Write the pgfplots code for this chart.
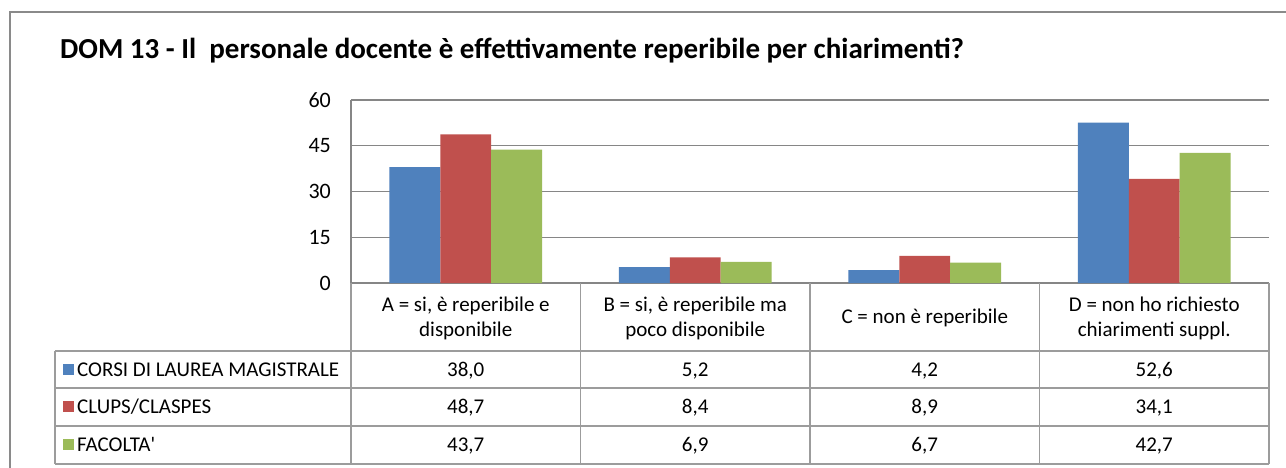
\documentclass[border=0pt]{standalone}
\usepackage{pgfplots}
\usepackage{pgfplotstable}
\pgfplotsset{compat=1.18}
\usepackage{fontspec}
\setmainfont{Carlito}
\newfontfamily\rawcarlito{Carlito}
\definecolor{serblue}{HTML}{4F81BD}
\definecolor{serred}{HTML}{C0504D}
\definecolor{sergreen}{HTML}{9BBB59}
\definecolor{gridgray}{HTML}{868686}
\definecolor{tabgray}{HTML}{9C9C9C}
\definecolor{framegray}{HTML}{8A8A8A}

% category positions 0.5 .. 3.5, one column per series
\pgfplotstableread{
x   lm    clups fac
0.5 38.0  48.7  43.7
1.5 5.2   8.4   6.9
2.5 4.2   8.9   6.7
3.5 52.6  34.1  42.7
}\dom

\newcommand\tabfont{\fontsize{21}{25}\selectfont}

\begin{document}
\begin{tikzpicture}
\path[use as bounding box] (0pt,0pt) rectangle (1286pt,-468pt);
\fill[white] (0pt,0pt) rectangle (1286pt,-468pt);

\begin{axis}[
  at={(351pt,-283pt)}, anchor=south west,
  width=918pt, height=183pt, scale only axis,
  xmin=0, xmax=4, ymin=0, ymax=60,
  ytick={0,15,30,45,60}, xtick=\empty,
  ymajorgrids, grid style={gridgray, line width=1.2pt},
  axis x line=bottom, axis y line=left,
  axis line style={-, gridgray, line width=1.2pt},
  major tick length=0pt,
  /pgf/number format/assume math mode=true,
  yticklabel style={font=\fontsize{22}{26}\selectfont, anchor=east, inner sep=0pt, xshift=-20pt},
  clip=false,
]
\addplot[ybar, bar width=0.222, bar shift=-0.222, fill=serblue, draw=none] table[x=x, y=lm] {\dom};
\addplot[ybar, bar width=0.222, bar shift=0, fill=serred, draw=none] table[x=x, y=clups] {\dom};
\addplot[ybar, bar width=0.222, bar shift=0.222, fill=sergreen, draw=none] table[x=x, y=fac] {\dom};
\end{axis}

\begin{scope}[x=1pt, y=1pt]
% outer chart frame (cut at right and bottom)
\draw[framegray, line width=2] (10,-470) -- (10,-12) -- (1290,-12);
% title
\node[anchor=base west, inner sep=0pt, font=\fontsize{29}{33}\selectfont\bfseries]
  at (60,-59) {DOM 13 - Il\ \ personale docente è effettivamente reperibile per chiarimenti?};

% data table grid
\begin{scope}[tabgray, line width=1.2]
  \foreach \yy in {351,388,426,464} \draw (55,-\yy) -- (1269,-\yy);
  \draw (55,-351) -- (55,-464);
  \foreach \xx in {351,580.5,810,1039.5,1269} \draw (\xx,-283) -- (\xx,-464);
\end{scope}

% category headers
\begin{scope}[every node/.style={align=center, inner sep=0pt, font=\tabfont}]
  \node at (465.75,-318) {A = si, è reperibile e\\disponibile};
  \node at (695.25,-318) {B = si, è reperibile ma\\poco disponibile};
  \node at (924.75,-318) {C = non è reperibile};
  \node at (1154.25,-318) {D = non ho richiesto\\chiarimenti suppl.};
\end{scope}

% legend column
\fill[serblue]  (63,-364) rectangle (74,-375);
\fill[serred]   (63,-401) rectangle (74,-412);
\fill[sergreen] (63,-439) rectangle (74,-450);
\node[anchor=base west, inner sep=0pt, font=\tabfont] at (77,-376) {CORSI DI LAUREA MAGISTRALE};
\node[anchor=base west, inner sep=0pt, font=\tabfont] at (77,-413) {CLUPS/CLASPES};
\node[anchor=base west, inner sep=0pt, font=\tabfont] at (77,-451) {FACOLTA{\rawcarlito '}};

% values
\foreach \col/\yb in {lm/376, clups/413, fac/451} {
  \foreach \r in {0,1,2,3} {
    \pgfplotstablegetelem{\r}{\col}\of\dom
    \node[anchor=base, inner sep=0pt, font=\tabfont] at ({465.75+229.5*\r}, -\yb)
      {\pgfmathprintnumber[fixed, fixed zerofill, precision=1, use comma, assume math mode=true]{\pgfplotsretval}};
  }
}
\end{scope}
\end{tikzpicture}
\end{document}
